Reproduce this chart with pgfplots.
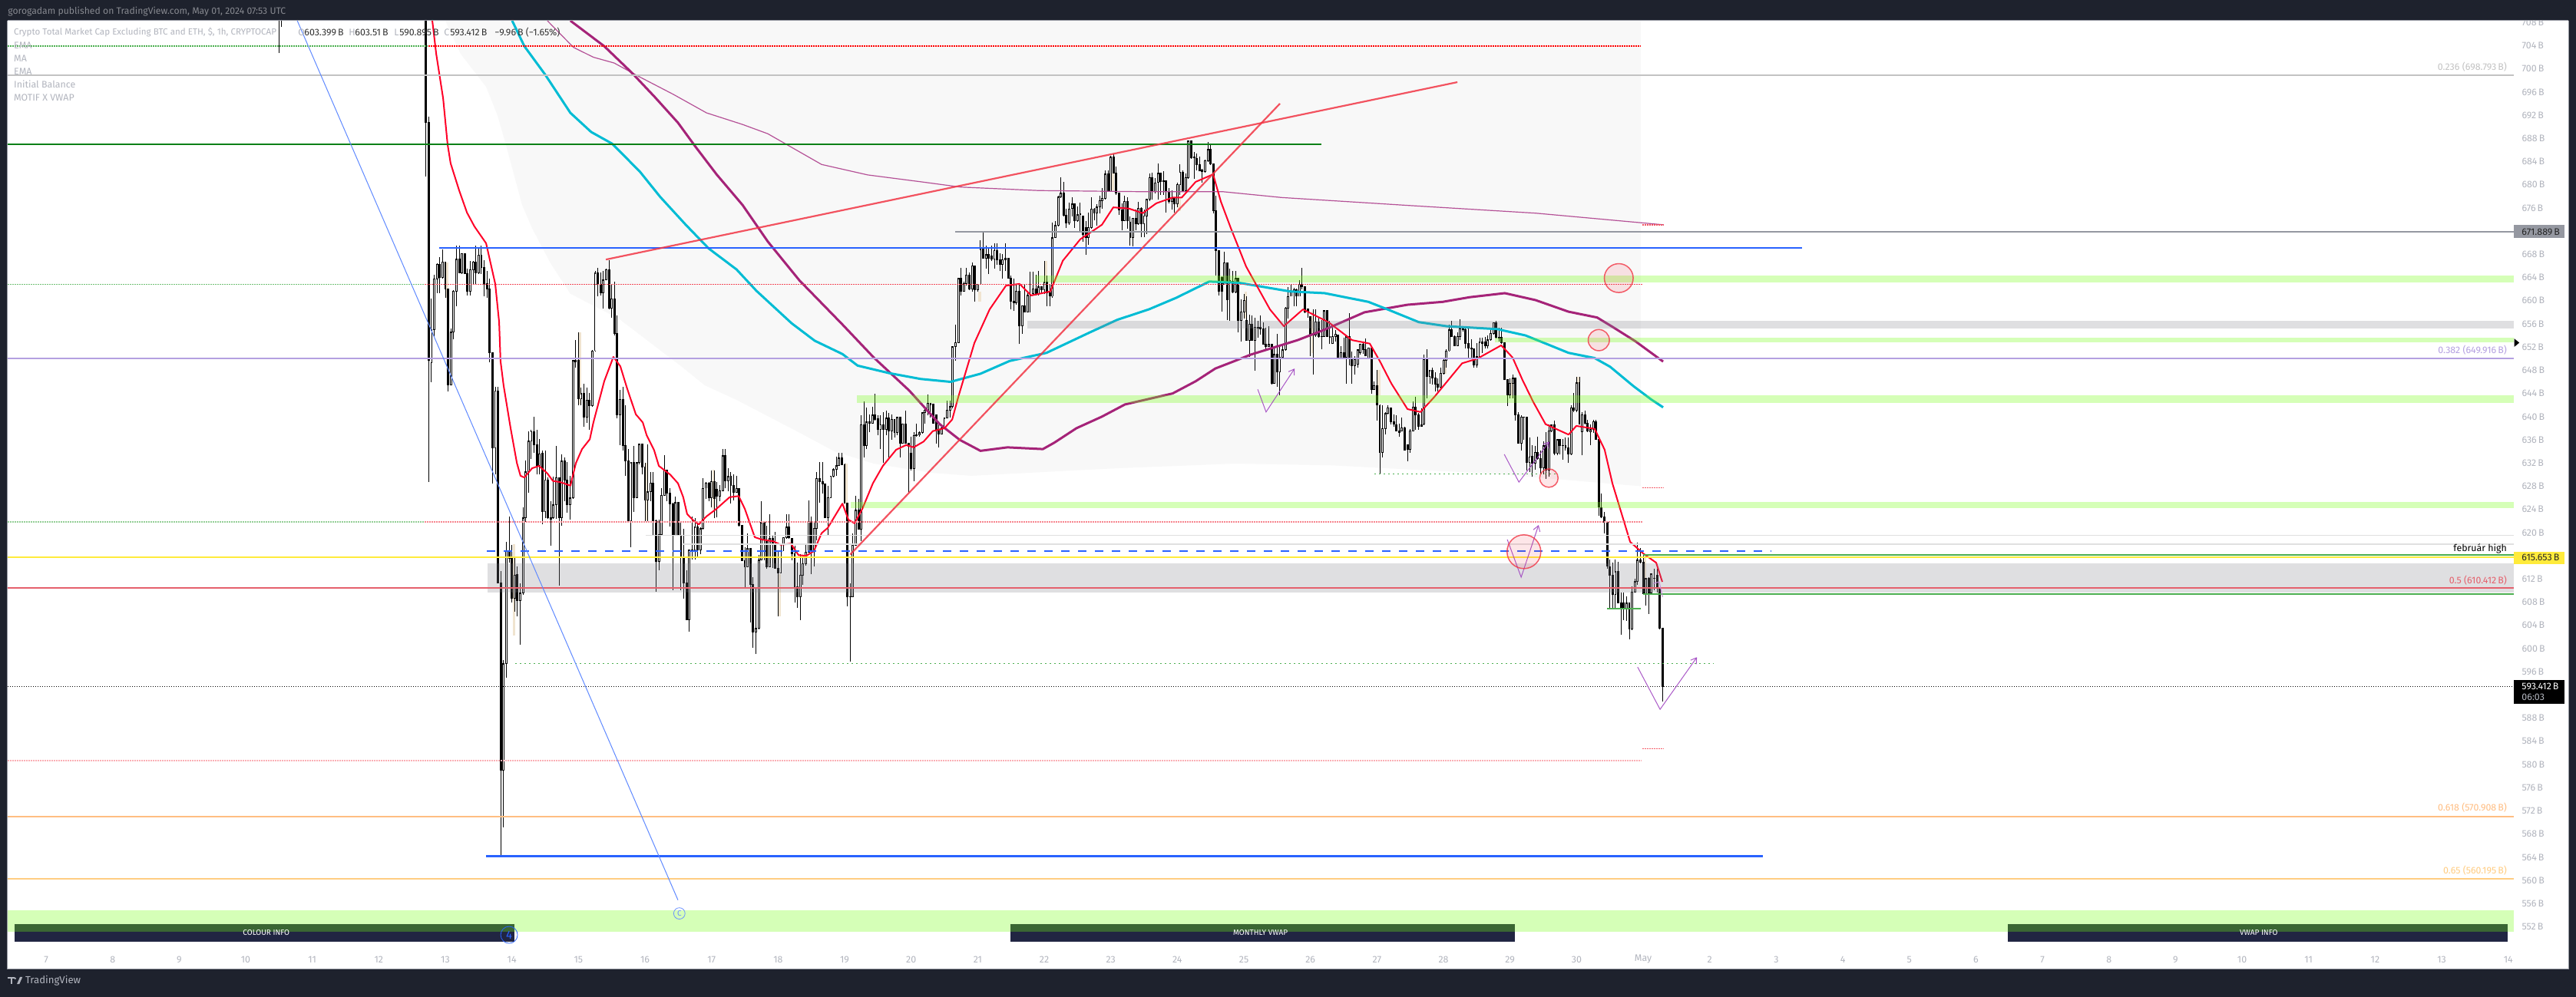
\documentclass[border=0pt]{standalone}
\usepackage{fontspec}
\setmainfont{Fira Sans}
\usepackage{pgfplots}
\usepackage{pgfplotstable}
\pgfplotsset{compat=1.18}
\usetikzlibrary{arrows.meta}
\definecolor{dark}{RGB}{30,34,45}
\definecolor{tick}{RGB}{178,181,190}
\definecolor{vw}{RGB}{248,248,248}
\definecolor{tan}{RGB}{240,228,208}
\definecolor{navy}{RGB}{33,37,66}
\definecolor{zg}{RGB}{118,255,18}
\definecolor{zy}{RGB}{131,131,139}
\definecolor{tvblue}{RGB}{41,98,255}
\definecolor{tlred}{RGB}{242,54,69}
\definecolor{emared}{RGB}{255,0,40}
\definecolor{cy}{RGB}{0,188,212}
\definecolor{mg}{RGB}{165,35,120}
\definecolor{pk}{RGB}{180,80,150}
\definecolor{vio}{RGB}{156,60,190}
\definecolor{fibp}{RGB}{180,160,225}
\definecolor{fibr}{RGB}{229,96,108}
\definecolor{fibo}{RGB}{255,190,130}
\definecolor{fiby}{RGB}{255,205,130}
\definecolor{fibg}{RGB}{195,195,195}
\definecolor{grn}{RGB}{76,175,80}
\definecolor{dgrn}{RGB}{11,128,22}
\definecolor{yel}{RGB}{255,235,59}
\definecolor{gtag}{RGB}{149,152,161}
\pgfplotstableread{
t o h l c
-60 712 714 702.7 710
-59 712 714 707.2 711
-7 715 716 681.4 690.7
-6 690.7 691.7 628.7 649.7
-5 649.3 660.4 646 654.9
-4 655 664.5 653.8 663.7
-3 663.7 666.4 661.3 666.2
-2 666.2 667.5 661.3 663.9
-1 663.9 668.8 663.8 666.6
0 666.6 666.6 660.5 662
1 662 662 644.3 645.4
2 645.4 655.2 645.4 654.5
3 654.5 661.8 653.3 661.6
4 661.6 669.5 659.1 667.1
5 667.1 669.5 664.8 664.8
6 664.8 668.1 664.6 668.1
7 668.1 668.1 664.6 664.6
8 664.6 665.5 660.9 661.5
9 661.5 666.9 660.9 665.3
10 665.3 666.9 662.9 666.6
11 666.6 669.5 662.9 664.8
12 664.8 669 664.6 667.8
13 667.8 669.5 664.6 665.7
14 665.7 667 660.7 662.9
15 662.9 665.1 660.5 662
16 662 663.8 649.4 651
17 651 651 628.5 634.6
18 634.6 645.2 630 644.4
19 644.3 645.2 611.2 611.2
20 611.2 613.3 564.2 579
21 579 598 569.2 597.3
22 597.3 618.4 595 616.7
23 616.7 622.7 614.8 615.5
24 615.5 617.9 608 608.6
25 608.6 615.9 606.4 612.6
26 612.7 614.1 605.5 608.2
27 608.2 611.3 600.7 609.5
28 609.5 624.3 609.3 622.5
29 622.5 632.4 621.8 630.4
30 630.4 637.5 626.9 635.7
31 635.7 637.7 632.7 637.4
32 637.4 640 633.8 635.1
33 635.1 637.7 630 631.5
34 631.5 636.2 630 633.5
35 633.6 634.2 621.4 623.6
36 623.6 634.2 622.5 629
37 629 629.5 622.4 622.5
38 622.5 625.4 617.8 622.2
39 622.5 629.6 622.4 624.7
40 624.7 634.9 622.4 629.4
41 629.4 629.4 610.8 622.5
42 622.5 633.5 621.2 632.3
43 632.3 632.9 625.4 629
44 629 632.2 623.4 624.7
45 624.7 629.8 622.3 625.9
46 625.9 649.7 625.8 649.6
47 649.4 653.2 648.4 649.7
48 649.7 654.5 641.9 643
49 643 645 641.9 643.9
50 643.9 645.7 638.2 639.9
51 639.9 645 638.9 642.8
52 642.8 644.1 637.7 641.8
53 641.8 651.5 641.7 651.3
54 651.3 665.2 651.2 664.7
55 664.7 665.7 660.7 662.7
56 662.7 664.9 660.9 661.3
57 661.3 665.1 658.6 663.5
58 663.5 665.5 663.5 665.3
59 665.3 667 658.5 658.6
60 658.6 662.9 657.1 660.3
61 660.3 663.3 654 654.3
62 654.3 657.4 639.7 640.3
63 640.3 644.6 635.1 642.9
64 642.9 645.2 634.2 634.9
65 634.9 641.9 629.8 632.3
66 632.3 634.4 622 622
67 622 632 617.5 632
68 632 634.9 623.6 626
69 626 632 626 632
70 632 635.2 631.8 635.2
71 635.2 635.3 630 631.3
72 631.3 632 622 625.6
73 625.6 635.2 622 627
74 627 630.4 625.4 628.5
75 628.5 630.4 619.6 622
76 622 622.3 609.8 614.9
77 614.9 622.3 613.5 619.6
78 619.6 627.6 619.6 626.4
79 626.4 633.3 626.3 630.7
80 630.7 630.9 625.4 626.8
81 626.8 627.6 621 624.9
82 624.9 625.1 610.1 619.5
83 619.5 626.2 619.4 625.1
84 625.1 625.1 619.4 619.4
85 619.4 621.8 610.1 615.8
86 615.8 620.7 608.6 611.2
87 611.2 613.5 604.9 604.9
88 604.9 617 602.9 616.9
89 616.9 622.7 615.3 616.8
90 616.9 622.5 615.3 620.9
91 620.9 621.4 615.8 616.9
92 616.9 620.9 616.3 620.6
93 620.6 629.4 620.5 627.6
94 627.6 628.7 625.8 628.5
95 628.5 628.7 625.4 625.9
96 625.9 630.7 624.3 628.8
97 628.8 630.7 622.5 625.8
98 627.4 628.7 622.6 626.2
99 626.2 628.2 625.4 627.2
100 627.2 634.4 627.1 633.2
101 633.2 634.4 627.6 628.9
102 628.9 631.1 627.1 629.6
103 629.6 630.4 625 628.1
104 628.1 630 625.6 626.9
105 626.9 629.8 626.9 627.6
106 627.6 627.7 621 621.2
107 621.2 621.3 615.7 615.1
108 615.1 617.5 610.3 614
109 614 619.8 614 617.2
110 617.2 617.3 604.5 611
111 611 612.3 600.1 602.8
112 602.8 610.6 599 603.4
113 603.4 616.1 603.3 615.2
114 615.2 625.4 615.2 621.7
115 621.7 621.8 615.2 618.6
116 618.6 621.2 613.7 614
117 614 623.2 614 618.9
118 619 619.6 613.9 618
119 618 620.1 613.7 613.8
120 613.8 617 605.5 613
121 613 618.1 613 618
122 618 619.2 616.8 619.1
123 619.1 623.2 618.9 620.9
124 620.9 623.1 618.9 619
125 619 619.1 615.2 616.3
126 616.3 617.7 607.9 610.6
127 610.6 614.8 607 608.8
128 608.8 616.3 604.9 612.6
129 612.6 615.7 611 614.6
130 614.6 617.9 614.3 616.6
131 616.6 625.5 616.5 621.9
132 621.9 622.8 612.8 617
133 617 622 614.1 620.7
134 620.7 630.4 618.7 629.3
135 629.3 632.2 625.2 628.7
136 628.7 632.2 626.7 628.3
137 628.3 628 622.5 622.5
138 622.5 628 619.6 626
139 626 629.8 626 629.7
140 629.7 631.1 629.5 630.8
141 630.8 633.1 629.8 631.5
142 631.5 633.8 631.5 632.8
143 632.8 633.8 631.6 631.7
144 631.7 631.9 625 625
145 625 625.1 607.3 608.8
146 608.8 611.3 597.8 608.9
147 608.8 619.8 609 617.8
148 617.8 626.4 617.7 623.8
149 623.8 625.8 620.5 620.5
150 620.5 640.2 618.5 638.6
151 638.6 642.6 632.9 634.9
152 634.9 641.6 634.4 639
153 639 640.4 637.3 638.8
154 638.8 641.7 638.8 640.2
155 640.2 643.9 639.3 639.5
156 639.6 640.2 636.8 637.7
157 637.7 640.2 634.4 638.6
158 638.6 640.8 632 637.7
159 637.7 641.1 636.8 639.7
160 639.7 640.6 633 637.5
161 637.5 640.4 636 639.5
162 639.5 639.5 636.4 637.2
163 637.2 639.9 636.8 639.8
164 639.8 639.8 633 635.3
165 635.3 638.7 635.3 638.7
166 638.7 641 635.3 635.3
167 635.3 635.5 626.9 634.8
168 633.7 636.6 630.7 631
169 631 637.3 628.9 636.7
170 636.7 638.8 636.6 636.8
171 636.8 637.5 636.6 637.2
172 637.2 640.8 637.1 640.6
173 640.6 641.7 638.8 641.1
174 641.1 643.8 640.2 642.3
175 642.3 642.4 639.9 641.9
176 642.1 642.1 638.8 638.8
177 640.2 640.2 635.4 637.6
178 637.6 639 634.7 636.9
179 636.9 638.4 636.9 638
180 638 639.7 637.9 639.7
181 639.7 642.7 639.7 641.1
182 641.1 642.7 639.9 641.7
183 641.7 652 641.5 652
184 652 655.8 649.6 652.7
185 652.7 663.8 652.7 663.8
186 663.8 665.7 660.9 661.5
187 661.5 663.3 661.7 662.9
188 662.9 665.7 662.6 664.4
189 664.4 664.9 661.8 661.9
190 661.9 666.6 661.5 666
191 666 666 659.9 661.8
192 661.8 662.9 661.5 662.8
193 662.8 670.4 664.6 668.8
194 668.8 671.9 667.3 667.3
195 667.3 669.5 665.5 667.9
196 667.9 669.3 664.6 667.3
197 667.7 669.5 666.8 667.1
198 667.1 669.9 665.5 668.6
199 668.6 669.9 666.2 667
200 667 668.2 665.1 666.2
201 666.2 668 663.8 667
202 667 669.9 665.1 667.2
203 667.2 667.2 663.8 663.8
204 663.8 664.4 658.5 659.8
205 659.8 663.8 658.2 659.6
206 659.6 662.9 659.3 661.6
207 661.6 662.9 652.5 655.6
208 655.6 659.1 654.3 659.1
209 659.1 662.9 658 658
210 658 661.6 658 660.9
211 660.9 665 658 661.1
212 661.1 665 660.9 662
213 662 664.5 660.9 661.1
214 661.1 665.1 660.9 662.3
215 662.3 662.4 661.1 661.8
216 661.8 666.9 661.1 663.1
217 663.1 664.4 659.1 661.3
218 661.3 662.9 659.1 660.7
219 660.7 673.5 660.5 670.8
220 670.8 673.7 670.8 672.9
221 672.9 678.1 672.8 677.8
222 677.8 681.3 677.7 678.5
223 678.5 680.5 674.6 674.7
224 674.7 675.9 672.5 673.4
225 673.4 676.9 673.1 675.8
226 675.8 677.8 674.6 676.6
227 676.6 676.8 672.6 673.7
228 673.7 676.3 673.6 674.8
229 674.8 676.9 671.7 674.9
230 674.6 674.6 670.2 671.4
231 672.5 673.7 667.9 670.8
232 670.8 675.2 669.7 672.6
233 672.6 677.9 672.4 675.8
234 675.8 676 673.9 675.1
235 675.1 676.6 672.9 676.1
236 676.1 678.1 675 677.2
237 677.2 679.4 675.9 677.6
238 677.6 682.5 677.5 681.8
239 681.8 682.5 678.8 678.8
240 678.8 685 679 684.7
241 684.7 685.2 681.9 681.9
242 681.9 683.2 678.3 678.5
243 678.5 678.6 674.8 675.6
244 675.6 676.8 672.2 673.8
245 673.8 678.1 673.8 677.1
246 677.1 677.8 672.4 673.7
247 673.5 674.6 669.5 670.8
248 670.8 674.1 669.4 674.2
249 674.2 675.7 672.2 673.2
250 673.2 677 673.1 675.9
251 675.9 676.1 671 673.2
252 673.2 675.7 671 674.6
253 674.6 677.4 671.5 677.4
254 677.4 681.9 677.2 681.2
255 681.2 682.1 677.4 678.8
256 678.8 681.2 678.5 680.3
257 680.3 683.7 677.4 681.9
258 681.9 681.9 678.3 680.5
259 680.5 682.3 678.3 680.6
260 680.6 680.8 675.2 678.8
261 678.8 679.4 676.8 677
262 677 679 675.7 677.7
263 677.7 677.4 675.2 676.6
264 676.6 680.3 676.1 680
265 680 683.6 678.3 682.1
266 682.1 682.5 678.8 678.9
267 678.9 681.9 678.8 681.2
268 681.2 687.6 681 687.5
269 687.5 687.7 684.5 684.6
270 684.6 685.6 681 684.7
271 684.5 685.4 682.5 683.4
272 683.4 684.9 682.3 682.3
273 682.5 682.7 680.3 682.2
274 682.2 684.3 682.1 684.1
275 684.1 687.4 684 686
276 686 686.9 683.4 683.5
277 683.5 683.6 675 675.5
278 675.5 678.1 664.4 668.6
279 668.6 668.6 660.9 661.5
280 664 664.2 658.1 661.6
281 662.8 668.5 662.9 666.5
282 666.5 666.5 656.6 660.1
283 663.3 665.5 656.5 663.4
284 663.3 665.1 661.3 661.4
285 661.4 665.1 661.3 663.8
286 663.8 663.8 654.5 656.5
287 656.5 660.2 653 658
288 658 661.1 656.9 660
289 656.5 660.7 653.1 653.1
290 653.1 657.6 650.3 655.9
291 655.9 657.4 653.1 653.1
292 653.1 657.1 647.9 655.4
293 655.4 656.5 653.6 655.2
294 655.3 657.4 654.1 655.1
295 655.1 656.2 652.4 652.4
296 652.4 655.4 651.4 652
297 652 655.6 652.2 652.4
298 652.4 652.5 645.5 645.7
299 645.7 652.1 645.7 650.7
300 650.7 654.3 645.2 647.6
301 647.6 652.1 643.7 650.2
302 650.2 652.5 649.9 651.5
303 651.5 658.9 651.4 658.7
304 658.7 662.4 656.9 660.7
305 660.7 662.7 660.7 661.5
306 661.5 662.2 659.1 661.9
307 661.9 662.1 659.1 660.7
308 660.7 663.5 660.7 662.8
309 662.8 665.6 662 662.3
310 662.3 662.1 657.9 658
311 658.5 658.7 657.1 658
312 657.2 657.2 650.5 654
313 654 658.5 647.3 654
314 654 658.5 653.8 656.3
315 656.3 657.1 653.6 653.8
316 653.8 656.7 651.6 653.8
317 653.8 658.3 653.8 658.2
318 658.2 658.3 653.7 653.8
319 653.8 656.5 652.5 653.6
320 652.5 655.6 652.5 653.8
321 653.8 654.9 653 654.2
322 654 653.9 650 650.1
323 650.1 652.1 650 651
324 651 653.6 650.3 650.2
325 650.2 653.8 645.7 653.7
326 653.7 657.8 648.8 650.2
327 650 651.2 645.7 648.7
328 648.7 650.5 647.2 649.9
329 649 651.6 648.5 651.5
330 651 652.5 650.7 652.5
331 652.5 653 650.9 651.5
332 651.5 653.5 650.5 650.5
333 650 651.9 650 651.8
334 651.8 651.8 643.9 644.6
335 644.6 646.1 644.6 645.3
336 645.3 648.1 639.3 641.9
337 641.9 642.1 630.1 633.8
338 633.8 641.9 633 637.9
339 637.9 640.8 636.9 640.5
340 640.5 642 640.4 641.5
341 641.5 641.6 638.6 639
342 639 640.4 638.2 638.6
343 638.6 640.2 637.5 637.5
344 637.5 638.8 636.5 637.2
345 637.5 639.8 637.5 638
346 638 638.2 634.2 634.2
347 635.1 635.1 632.3 634.3
348 634.3 637.9 633.8 637.5
349 637.5 642.6 637.5 641.6
350 641.6 643.4 637.7 640.3
351 640.3 640.6 637.7 638.3
352 638.3 641.5 638.2 638.6
353 638.6 650.7 638.5 649.8
354 649.8 651.6 643.2 646.9
355 646.9 648.1 645.7 647.9
356 647.9 648.5 645.5 646.6
357 646.6 647.6 644.4 645.5
358 645.5 646.6 644.4 645
359 645 648.5 644.9 647.4
360 647.4 649.9 647.3 649.7
361 649.7 651.6 648.5 651.3
362 651.3 655.8 651.2 654.9
363 654.9 656.5 653.8 653.8
364 653.8 654 652.2 652.2
365 652.2 654.5 652.2 653.8
366 653.8 656.8 653.2 655.2
367 655.2 655.6 654.7 654.9
368 654.9 655.6 651.8 652.6
369 652.6 655.4 650.1 651.8
370 651.8 653.4 650.1 651.6
371 651.6 651.7 648.5 648.8
372 648.8 652.7 648.5 650.3
373 650.3 653.6 650.2 652.8
374 652.8 653.6 651 652.5
375 652.8 653.8 651.8 652.2
376 652.2 654 651.8 653.2
377 653.2 655.2 653.1 654.3
378 654.3 656.3 654.2 656.2
379 656.2 656.5 653.5 653.6
380 653.6 655.4 653 653.5
381 653.6 655.4 652.5 652.7
382 652.7 652.8 646.3 646.3
383 646.3 646.4 641.8 643.7
384 643.7 646.6 643.1 645.7
385 645.7 647.2 643.2 646.6
386 646.6 646.6 639.3 640.3
387 640.3 640.8 635.3 635.3
388 635.3 640.2 634.2 639.9
389 639.9 640 636 639.9
390 639.8 639.9 630.7 632
391 632 636.4 630.5 633
392 633.1 635.1 629.6 631.9
393 631.9 634.9 630.9 633.8
394 633.8 636.6 632.6 632.7
395 632.7 634.2 630.2 631.1
396 631.1 635.7 630 634.9
397 634.9 637.3 629.3 630.7
398 630.7 638.6 629.6 637.5
399 637.5 638.7 637.3 638.5
400 638.5 639.3 633.4 633.6
401 633.6 636 633.3 636
402 636 636.2 633.5 634.9
403 635 636.2 632.6 635
404 635 636.4 634.2 634.5
405 634.5 636.4 632 633.5
406 633.5 641.9 633.4 641.5
407 641.5 644.1 640.8 641
408 641 646.8 640.8 645.8
409 645.8 646.8 638.6 638.6
410 637.3 640.8 633.3 640.3
411 640.3 641 638.6 638.8
412 638.8 639.5 637.3 637.5
413 637.3 638.6 635.1 637.7
414 637.7 639.5 637.2 639.1
415 639.1 639.5 636 636
416 636 636.4 622.9 624.3
417 624.3 626.7 622.5 622.6
418 622.6 623.6 619.9 621.7
419 621.7 621.8 613.7 614.1
420 614.1 615.3 607 612.6
421 612.6 614.8 607 609.3
422 609.3 615.3 606.9 613.2
423 613.2 615 607.8 607.8
424 607.8 609.6 602.4 606.8
425 607.8 609.6 604.9 606.9
426 606.8 609 604.8 607.8
427 607.8 607.9 601.6 603.3
428 603.3 610.7 603.2 609.7
429 609.7 612 609.6 611.5
430 611.5 618.2 611 615.2
431 615.2 617.3 614.7 614.8
432 614.8 616.1 609.4 609.4
433 609.4 612.1 607.4 612
434 612 612.3 606 609.5
435 609.5 612.9 609.4 612.8
436 612.1 613.7 610.1 612
437 612.6 613.7 609.6 610.4
438 610.4 610.5 603.3 603.4
439 603.399 603.51 590.895 593.412
}\candles
\pgfplotstableread{
t lo hi
0.7 660.5 666.6
24.7 602.2 618
48.7 642.1 654.5
72.7 622.1 632
96.7 624 630.9
120.7 605.6 612.8
144.7 624 631.9
192.7 659.9 661.5
216.7 663.1 666.9
240.7 679.1 681.9
264.7 675.5 677.7
288.7 656.9 661.6
312.7 651 658.1
336.7 643.7 648.1
360.7 647.4 649.7
384.7 643.2 646.6
408.7 645.7 646.8
432.7 611.7 615.7
}\washes
\newcommand\zone[5]{\fill[#1,opacity=.3] (axis cs:#2,#3) rectangle (axis cs:#4,#5);}
\newcommand\gzone[4]{\fill[zy,opacity=.25] (axis cs:#1,#2) rectangle (axis cs:#3,#4);}
\newcommand\hl[4]{\addplot[#1] coordinates {(#2,#4) (#3,#4)};}
\tikzset{dotp/.style={line width=.8pt,dash pattern=on 1pt off .5pt},
 dots/.style={line width=.8pt,dash pattern=on .9pt off 2.1pt},
 fs/.style={font=\fontsize{6.2pt}{7pt}\selectfont}}
\begin{document}
\begin{tikzpicture}
\fill[dark] (0,0) rectangle (1677.5pt,649.5pt);
\useasboundingbox (0,0) rectangle (1677.5pt,649.5pt);
\begin{axis}[
 at={(5pt,18pt)},anchor=south west,
 scale only axis,width=1667.5pt,height=618pt,
 xmin=-157.85,xmax=765.7,ymin=544.65,ymax=708.3,
 axis background/.style={fill=white},
 axis line style={draw=gtag,line width=.5pt},
 tick style={draw=none},major tick length=0pt,
 xtick pos=bottom,ytick pos=right,
 xtick={-144,-120,...,744},
 xticklabels={7,8,9,10,11,12,13,14,15,16,17,18,19,20,21,22,23,24,25,26,27,28,29,30,May,2,3,4,5,6,7,8,9,10,11,12,13,14},
 xticklabel style={anchor=center,inner sep=0pt,yshift=6.5pt,text=tick,fs},
 ytick={552,556,560,564,568,572,576,580,584,588,596,600,604,608,612,620,624,628,632,636,640,644,648,652,656,660,664,668,676,680,684,688,692,696,700,704,708},
 yticklabels={552\,B,556\,B,560\,B,564\,B,568\,B,572\,B,576\,B,580\,B,584\,B,588\,B,596\,B,600\,B,604\,B,608\,B,612\,B,620\,B,624\,B,628\,B,632\,B,636\,B,640\,B,644\,B,648\,B,652\,B,656\,B,660\,B,664\,B,668\,B,676\,B,680\,B,684\,B,688\,B,692\,B,696\,B,700\,B,704\,B,708\,B},
 yticklabel style={anchor=west,inner sep=0pt,xshift=-30.5pt,text=tick,fs},
]
% VWAP band
\addplot[fill=vw,draw=none,forget plot] coordinates {(0,708.3)(431.2,708.3)(431.2,628)(376.6,630.2)(355.3,630.7)(319.9,631.6)(284.7,631.9)(242.3,631.1)(189.7,629.8)(175.6,630.3)(154.5,631.9)(140.4,634)(126.3,637.6)(105,642.9)(93.6,645.4)(85.3,648.6)(62.6,656.9)(45.1,661.2)(37.9,666.5)(31.3,672.5)(27.7,676.5)(22.2,686.3)(18.8,692)(14.7,696.9)(5.5,702.6)};
% daily wash
\addplot[draw=none,forget plot,error bars/.cd,y dir=plus,y explicit,error mark=none,error bar style={tan,line width=1.6pt}] table[x=t,y=lo,y error plus expr=\thisrow{hi}-\thisrow{lo}]{\washes};
% info boxes
\fill[navy] (axis cs:-155.4,552.46) rectangle (axis cs:24.9,549.4);
\fill[navy] (axis cs:203.8,552.46) rectangle (axis cs:385.8,549.4);
\fill[navy] (axis cs:563.6,552.46) rectangle (axis cs:743.8,549.4);
% candles
\addplot[draw=none,forget plot,error bars/.cd,y dir=plus,y explicit,error mark=none,error bar style={black,line width=.5pt}] table[x=t,y=l,y error plus expr=\thisrow{h}-\thisrow{l}]{\candles};
\addplot[draw=none,forget plot,error bars/.cd,y dir=plus,y explicit,error mark=none,error bar style={black,line width=1.45pt}] table[x=t,y expr={min(\thisrow{o},\thisrow{c})},y error plus expr={abs(\thisrow{c}-\thisrow{o})+0.12}]{\candles};
\addplot[draw=none,forget plot,error bars/.cd,y dir=plus,y explicit,error mark=none,error bar style={white,line width=.5pt}] table[x=t,y expr={\thisrow{o}+0.13},y error plus expr={(\thisrow{c}-\thisrow{o}>0.3) ? (\thisrow{c}-\thisrow{o}-0.2) : 0}]{\candles};
% thin anchored VWAP
\addplot[pk,line width=.6pt,forget plot] coordinates {(36.8,708.3)(46.2,703.7)(53.4,702)(60.9,701)(70.1,698.6)(82.2,695.6)(94.2,692.4)(107.2,690.4)(116.3,688.8)(135.7,683.5)(152.3,681.7)(171.7,680.5)(185.8,679.6)(214.1,679)(252.3,678.8)(280.5,678.8)(301.6,677.8)(348.4,676.4)(393.2,675.1)(439.2,673.1)};
% magenta
\addplot[mg,line width=1.5pt,forget plot,line join=round] coordinates {(45.1,708.3)(57.3,703.9)(67.3,699.3)(75.6,695.1)(83.9,690.7)(90,686.7)(97.8,681.8)(107.2,676.5)(116.3,670.2)(127.7,663.5)(143.2,655.9)(154.5,650.2)(167.3,644.5)(178.3,638.7)(185.5,636)(193,634.1)(202.7,634.7)(215.5,634.4)(219.6,635.5)(227.6,638)(236.8,640)(245.1,642.1)(262.3,644)(270.6,646.1)(277.7,648.3)(284.7,649.6)(290.5,650.7)(307.4,653.2)(317.1,655)(331.5,658)(347,659.3)(359.7,659.8)(369.4,660.6)(382.1,661.3)(393.2,660.1)(405.1,658.1)(415.4,657.1)(420.9,655.5)(429.2,653)(439.2,649.5)};
% cyan
\addplot[cy,line width=1.5pt,forget plot,line join=round] coordinates {(24.1,708.3)(28.5,703.9)(36,699)(45.1,692.4)(52.6,689.1)(60.1,687.1)(70.1,682.3)(77.5,677.9)(86.7,673.1)(95,669)(105,665.4)(112.2,661.7)(124.9,656.1)(133.2,653.1)(143.2,650.8)(148.7,648.8)(160.1,647.5)(171.4,646.5)(182.2,646)(193,647.4)(203.5,649.6)(216.8,651)(232.3,654.5)(242.3,656.7)(253.7,658.5)(263.6,660.5)(275.5,663.3)(286.1,663.1)(304.6,661.6)(317.1,661.3)(332.9,659.8)(339.8,658.5)(351.1,656.3)(361.1,655.6)(379.4,655.1)(389.6,654)(397.9,652.4)(405.1,651)(414.5,650.1)(420.1,648.6)(428.4,645.3)(434.8,643)(439.2,641.6)};
% red EMA
\addplot[emared,line width=1pt,forget plot,line join=round] coordinates {(-4.7,708.3)(-3.3,702.6)(-0.8,694.9)(0.8,687)(1.9,683.7)(5,679)(7.8,675.2)(10.5,672.8)(14.7,669.9)(18,662.9)(19.4,656.3)(19.9,649.6)(21,645.4)(23.5,638.1)(25.8,632)(27.1,629.8)(28.5,629.5)(31.3,631.1)(33.8,631.5)(36.8,630.2)(38.8,628.9)(41.5,628.7)(45.1,628.1)(47.1,632)(49.3,634.4)(52.1,636.1)(53.4,639)(57.3,646.1)(60.6,650.3)(63.1,648.7)(65.6,644.8)(68.7,640.4)(71.2,639)(72.6,636.8)(75.3,634.2)(77,631.5)(78.9,630.8)(81.1,630)(83.9,628.5)(85.8,626.1)(87.2,623.2)(89.4,622.1)(91.4,621.4)(94.2,622.8)(97.8,624.1)(102.5,626.1)(105.8,626.3)(108,624.1)(111.6,619.2)(114.1,618.8)(118.2,618.5)(121,617.9)(124.6,618.1)(127.4,616.1)(130.2,616)(132.9,616.8)(135.7,619.9)(137.9,620.8)(143.2,625)(145.4,622.2)(147.6,621.6)(150.4,624.1)(154.2,628.5)(157.8,631.5)(162.6,634.3)(166.2,635.1)(168.9,634.7)(172.5,635.7)(175.8,637.5)(180,638)(182.8,639.5)(185,643.4)(190.8,652.7)(196.3,658.5)(202.2,662.6)(207.1,662.9)(211.3,660.9)(218.2,661.6)(222.7,666.9)(229,670.6)(236.8,673.1)(240.9,676.1)(246.5,675.9)(251.5,675.1)(256.4,676.8)(262.3,677.8)(265.6,677.8)(270.6,680.5)(276.9,681.8)(279.7,677.1)(283.3,672.5)(288.8,665.9)(297.4,658.5)(302.4,655.6)(309.3,658.5)(318.5,656.3)(327,653.2)(333.4,652.6)(337,649.6)(341.2,645.7)(347,641.3)(351.7,640.8)(356.7,643.4)(366.7,649.2)(372.2,650)(380.8,652.3)(384.9,650.2)(388.5,646.3)(392.4,642.5)(396.8,638.7)(405.1,636.9)(407.9,638.4)(414.5,637.9)(418.1,634.3)(420.9,628.5)(425.6,621.1)(427.3,618.4)(432,616.4)(436.7,614.8)(438.9,611.5)};
% zones
\zone{zg}{148.4}{642.4}{746}{643.7}
\zone{zg}{146.2}{624.2}{746}{625.3}
\zone{zg}{212.7}{663.1}{746}{664.3}
\zone{zg}{378.5}{652.8}{746}{653.6}
\zone{zg}{-157.85}{551.2}{746}{554.8}
\gzone{210}{655.2}{746}{656.5}
\gzone{15.2}{609.7}{746}{614.7}
% horizontal levels
\hl{grn,dotp,forget plot}{-157.85}{-6.6}{703.9}
\hl{red,dotp,forget plot}{-6.1}{431.2}{703.9}
\hl{fibg,line width=1pt,forget plot}{-157.85}{746}{698.85}
\hl{dgrn,line width=1.2pt,forget plot}{-157.85}{316}{687}
\hl{gtag,line width=1pt,forget plot}{183.9}{746}{671.9}
\hl{tvblue,line width=1.2pt,forget plot}{-2.2}{489.3}{669.1}
\hl{grn!80,dotp,forget plot}{-157.85}{-7.5}{662.8}
\hl{tlred!90,dotp,forget plot}{-7.5}{431.7}{662.8}
\hl{fibp,line width=1pt,forget plot}{-157.85}{746}{650}
\hl{tlred!80,dotp,forget plot}{431.7}{439.5}{627.75}
\hl{tlred!85,dotp,forget plot}{431.7}{439.5}{673.1}
\hl{grn!60,dotp,forget plot}{-157.85}{-7.5}{621.8}
\hl{tlred!60,dotp,forget plot}{-7.5}{431.7}{621.8}
\hl{black!12,line width=.5pt,forget plot}{72.3}{746}{619.5}
\hl{black!12,line width=1pt,forget plot}{85.3}{746}{618}
\hl{tvblue,line width=.9pt,dash pattern=on 5.2pt off 5.8pt,forget plot}{15}{478.3}{616.8}
\hl{yel,line width=1pt,forget plot}{-157.85}{746}{615.7}
\hl{grn,line width=1pt,forget plot}{432}{746}{616.1}
\hl{fibr,line width=1pt,forget plot}{-157.85}{746}{610.45}
\hl{grn,line width=1.1pt,forget plot}{432}{746}{609.4}
\hl{grn,line width=1pt,forget plot}{419}{431.2}{606.9}
\hl{grn,dots,forget plot}{25.2}{457.2}{597.4}
\hl{grn,dots,forget plot}{335}{400.6}{630.1}
\hl{black,line width=.4pt,dash pattern=on .5pt off 1pt,forget plot}{-157.85}{746}{593.41}
\hl{tlred!40,dotp,forget plot}{-157.85}{431.2}{580.7}
\hl{tlred!80,dotp,forget plot}{431.7}{439.5}{582.7}
\hl{fibo,line width=1pt,forget plot}{-157.85}{746}{571}
\hl{tvblue,line width=1.2pt,forget plot}{14.7}{475.2}{564.2}
\hl{fiby,line width=1pt,forget plot}{-157.85}{746}{560.3}
% trend lines
\addplot[tlred,opacity=.85,line width=1.1pt,forget plot] coordinates {(57.9,667.1)(365,697.7)};
\addplot[tlred,opacity=.85,line width=1.1pt,forget plot] coordinates {(146,616.2)(301,694)};
\addplot[tvblue!75,line width=.5pt,forget plot] coordinates {(-53.4,708.3)(83.9,556.6)};
% check marks
\addplot[vio,opacity=.85,line width=.5pt,-{Straight Barb[length=3.5pt,width=4.5pt]},forget plot] coordinates {(293,644.7)(296,640.8)(306.3,648.3)};
\addplot[vio,opacity=.85,line width=.5pt,-{Straight Barb[length=3.5pt,width=4.5pt]},forget plot] coordinates {(381.9,633.5)(387.2,628.7)(398.2,635.7)};
\addplot[vio,opacity=.85,line width=.5pt,-{Straight Barb[length=3.5pt,width=4.5pt]},forget plot] coordinates {(383,618.8)(388,612.3)(394.3,621.3)};
\addplot[vio,opacity=.85,line width=.5pt,-{Straight Barb[length=3.5pt,width=4.5pt]},forget plot] coordinates {(430,596.8)(438.1,589.5)(451.4,598.5)};
\addplot[vio!60,line width=.5pt,forget plot] coordinates {(435.6,611.2)(437.8,611.5)(439,608.9)};
% circles
\draw[tlred,opacity=.8,line width=.75pt,fill=tlred,fill opacity=.12] (axis cs:423.2,663.9) circle [radius=9.4pt];
\draw[tlred,opacity=.8,line width=.75pt,fill=tlred,fill opacity=.12] (axis cs:416,653.2) circle [radius=6.9pt];
\draw[tlred,opacity=.8,line width=.75pt,fill=tlred,fill opacity=.12] (axis cs:398,629.4) circle [radius=6pt];
\draw[tlred,opacity=.8,line width=.75pt,fill=tlred,fill opacity=.12] (axis cs:389,616.7) circle [radius=11pt];
% labels in chart
\node[anchor=east,inner sep=0,text=fibg,fs] at (axis cs:743.6,700.3) {0.236 (698.793\,B)};
\node[anchor=east,inner sep=0,text=fibp,fs] at (axis cs:743.6,651.5) {0.382 (649.916\,B)};
\node[anchor=east,inner sep=0,text=black,fs] at (axis cs:743.6,617.2) {február high};
\node[anchor=east,inner sep=0,text=fibr,fs] at (axis cs:743.6,611.8) {0.5 (610.412\,B)};
\node[anchor=east,inner sep=0,text=fibo,fs] at (axis cs:743.6,572.5) {0.618 (570.908\,B)};
\node[anchor=east,inner sep=0,text=fiby,fs] at (axis cs:743.6,561.7) {0.65 (560.195\,B)};
\node[text=white,inner sep=0,font=\fontsize{5pt}{6pt}\selectfont] at (axis cs:-64.6,550.95) {COLOUR INFO};
\node[text=white,inner sep=0,font=\fontsize{5pt}{6pt}\selectfont] at (axis cs:294,550.95) {MONTHLY VWAP};
\node[text=white,inner sep=0,font=\fontsize{5pt}{6pt}\selectfont] at (axis cs:654,550.95) {VWAP INFO};
\node[draw=tvblue!70,circle,inner sep=0,minimum size=7.4pt,line width=.4pt,text=tvblue!70,font=\fontsize{5pt}{6pt}\selectfont] at (axis cs:84.4,554.3) {C};
\node[draw=tvblue,circle,inner sep=0,minimum size=11pt,line width=.4pt,text=tvblue,font=\fontsize{7.5pt}{9pt}\selectfont] at (axis cs:23,550.6) {4};
% price tags
\fill[gtag] (axis cs:746,673.1) rectangle (axis cs:764.3,670.8);
\node[anchor=west,inner sep=0,text=black!85,fs] at (axis cs:748.8,671.9) {671.889\,B};
\fill[yel] (axis cs:746,616.7) rectangle (axis cs:764.3,614.6);
\node[anchor=west,inner sep=0,text=black!85,fs] at (axis cs:748.8,615.65) {615.653\,B};
\fill[black] (axis cs:746,594.56) rectangle (axis cs:764.3,590.46);
\node[anchor=west,inner sep=0,text=white,fs] at (axis cs:748.8,593.4) {593.412\,B};
\node[anchor=west,inner sep=0,text=tick,fs] at (axis cs:748.8,591.55) {06:03};
\fill[black] (axis cs:746.2,653.45) -- (axis cs:746.2,652.05) -- (axis cs:748,652.75) -- cycle;
\end{axis}
% header strip over the half tick label
\fill[dark] (0,636pt) rectangle (1677.5pt,649.5pt);
\draw[gtag,line width=.5pt] (5pt,636pt) -- (1672.5pt,636pt);
\tikzset{leg/.style={anchor=west,inner sep=0,text=tick,fs},val/.style={anchor=west,inner sep=0,text=black!80,fs}}
\node[anchor=west,inner sep=0,text=black!25!tick,font=\fontsize{6.1pt}{7pt}\selectfont] at (5pt,642pt) {gorogadam published on TradingView.com, May 01, 2024 07:53 UTC};
\node[leg,font=\fontsize{5.8pt}{7pt}\selectfont] at (8.9pt,628.5pt) {Crypto Total Market Cap Excluding BTC and ETH, \$, 1h, CRYPTOCAP};
\node[leg] at (194pt,628.5pt) {O};
\node[val] at (198pt,628.5pt) {603.399\,B};
\node[leg] at (227pt,628.5pt) {H};
\node[val] at (231pt,628.5pt) {603.51\,B};
\node[leg] at (256.5pt,628.5pt) {L};
\node[val] at (260pt,628.5pt) {590.895\,B};
\node[leg] at (289pt,628.5pt) {C};
\node[val] at (293pt,628.5pt) {593.412\,B};
\node[val] at (322pt,628.5pt) {−9.96\,B (−1.65\%)};
\node[leg] at (8.9pt,620pt) {EMA};
\node[leg] at (8.9pt,611.5pt) {MA};
\node[leg] at (8.9pt,603pt) {EMA};
\node[leg] at (8.9pt,594.5pt) {Initial Balance};
\node[leg] at (8.9pt,586pt) {MOTIF X VWAP};
% footer
\fill[tick] (5pt,11.8pt) rectangle (9.5pt,13pt);
\fill[tick] (6.8pt,8.4pt) rectangle (8.2pt,12pt);
\fill[tick] (9.9pt,12.1pt) circle (.7pt);
\fill[tick] (11pt,8.4pt) -- (13pt,13pt) -- (14.6pt,13pt) -- (12.6pt,8.4pt) -- cycle;
\node[anchor=west,inner sep=0,text=tick,font=\fontsize{6.6pt}{8pt}\selectfont] at (16.3pt,10.7pt) {TradingView};
\end{tikzpicture}
\end{document}
